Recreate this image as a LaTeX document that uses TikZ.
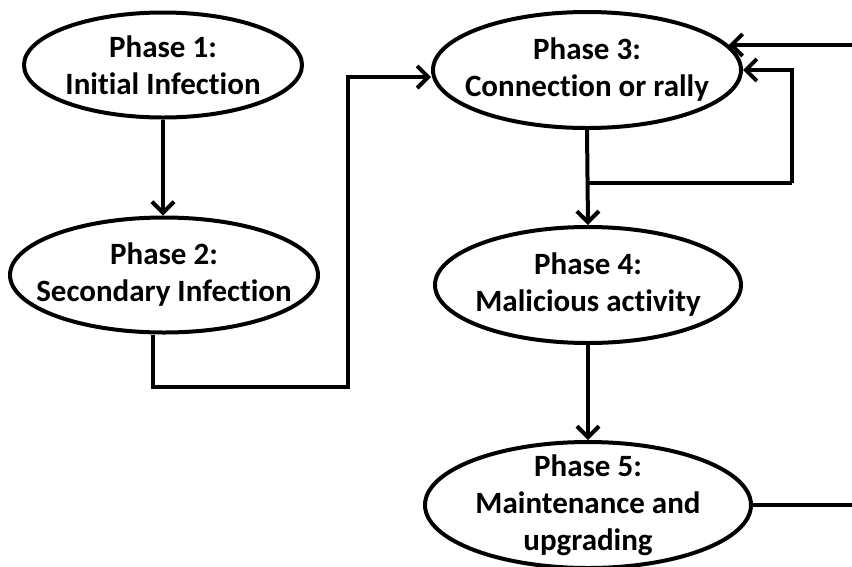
\documentclass[tikz,border=0pt]{standalone}
\usepackage{fontspec}
\setmainfont{Carlito}[Ligatures=NoCommon]
\usetikzlibrary{shapes.geometric,arrows.meta,calc}
\begin{document}
\begin{tikzpicture}[x=1pt,y=-1pt,
  phase/.style={ellipse,draw,line width=4pt,inner sep=0pt},
  lbl/.style={align=center,font=\bfseries\fontsize{31}{37}\selectfont},
  conn/.style={line width=4pt,line join=miter},
  arr/.style={conn,-{Straight Barb[length=11pt,width=22pt]}}]
\useasboundingbox (0,0) rectangle (852,566);
\clip (0,0) rectangle (852,566);
\fill[white] (0,0) rectangle (852,566);
\node[phase,minimum width=278pt,minimum height=105pt] (p1) at (163,65) {};
\node[lbl] (t1) at (p1) {Phase 1:\\Initial Infection};
\node[phase,minimum width=308pt,minimum height=115pt] (p2) at (164,275) {};
\node[lbl] (t2) at (p2) {Phase 2:\\Secondary Infection};
\node[phase,minimum width=308pt,minimum height=116pt] (p3) at (587,70) {};
\node[lbl] (t3) at (p3) {Phase 3:\\Connection or rally};
\node[phase,minimum width=306pt,minimum height=116pt] (p4) at (588,285) {};
\node[lbl] (t4) at (p4) {Phase 4:\\Malicious activity};
\node[phase,minimum width=326pt,minimum height=126pt] (p5) at (588,505) {};
\node[lbl] (t5) at (p5) {Phase 5:\\Maintenance and\\upgrading};
\coordinate (c1) at (348,387);
\coordinate (j) at (587,183);
\coordinate (r1) at (792,183);
\coordinate (r2) at (880,505);
\draw[arr] (p1.south) -- (p1.south |- p2.north);
\draw[arr] ([xshift=-11pt]p2.south) |- (c1) |- ([yshift=-7pt]p3.west);
\draw[arr] (p3.south) -- (p4.north);
\draw[conn] (j) -- (r1);
\draw[arr] (r1) |- (p3.east);
\draw[arr] (p4.south) -- (p5.north);
\draw[arr] (p5.east) -- (r2) |- (p3.10);
\end{tikzpicture}
\end{document}
